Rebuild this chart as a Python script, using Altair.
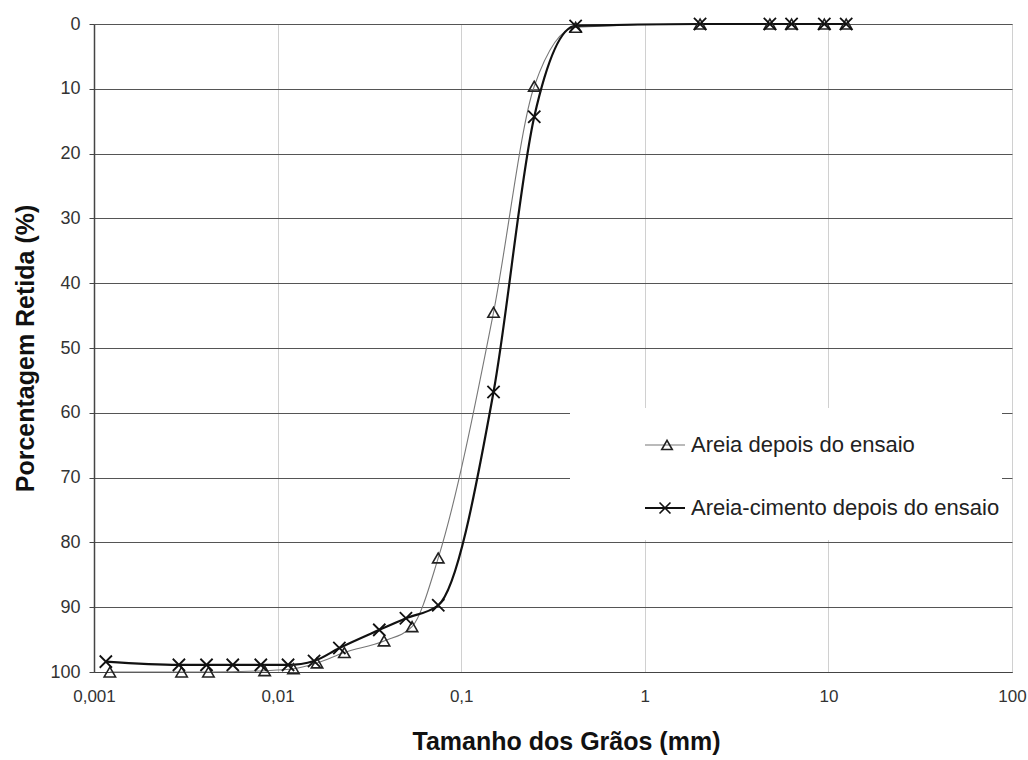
import altair as alt
import pandas as pd

# ---- data ----
areia_size = [0.00122, 0.0030, 0.0042, 0.0085, 0.0122, 0.0164, 0.0231, 0.038, 0.054, 0.075,
              0.15, 0.25, 0.42, 2.0, 4.8, 6.3, 9.5, 12.5]
areia_ret = [100, 100, 100, 99.8, 99.5, 98.6, 97.0, 95.2, 93.0, 82.4,
             44.5, 9.6, 0.5, 0, 0, 0, 0, 0]

cim_size = [0.00116, 0.0029, 0.0041, 0.0057, 0.0081, 0.0114, 0.0158, 0.0217, 0.0358, 0.050,
            0.075, 0.15, 0.25, 0.42, 2.0, 4.8, 6.3, 9.5, 12.5]
cim_ret = [98.4, 98.9, 98.9, 98.9, 98.9, 98.9, 98.3, 96.3, 93.5, 91.7,
           89.7, 56.8, 14.3, 0.3, 0, 0, 0, 0, 0]

x_ticks = [0.001, 0.01, 0.1, 1, 10, 100]
y_ticks = [0, 10, 20, 30, 40, 50, 60, 70, 80, 90, 100]
legend_labels = ["Areia depois do ensaio", "Areia-cimento depois do ensaio"]

df_a = pd.DataFrame({"size": areia_size, "ret": areia_ret})
df_c = pd.DataFrame({"size": cim_size, "ret": cim_ret})
one = pd.DataFrame({"k": [0]})

FONT = "Liberation Sans"
X_PATH = "M-1,-1L1,1M-1,1L1,-1"

xenc = alt.X(
    "size:Q",
    scale=alt.Scale(type="log", domain=[0.001, 100], nice=False),
    axis=alt.Axis(
        values=x_ticks,
        labelExpr="replace(toString(datum.value), '.', ',')",
        title="Tamanho dos Grãos (mm)",
        ticks=False,
        labelPadding=16,
        labelFontSize=17,
        labelColor="#333",
        labelFont=FONT,
        titleFont=FONT,
        titleFontSize=25,
        titleFontWeight="bold",
        titleColor="#111",
        titleX=472,
        titleY=69,
        titleBaseline="middle",
        grid=True,
        gridColor="#d0d0d0",
        gridWidth=1,
        domainColor="#444",
        domainWidth=1.2,
        labelFlush=False,
    ),
)
yenc = alt.Y(
    "ret:Q",
    scale=alt.Scale(domain=[0, 100], reverse=True, nice=False),
    axis=alt.Axis(
        values=y_ticks,
        title="Porcentagem Retida (%)",
        tickSize=5,
        tickColor="#444",
        labelPadding=9,
        labelFontSize=18,
        labelColor="#333",
        labelFont=FONT,
        titleFont=FONT,
        titleFontSize=25,
        titleFontWeight="bold",
        titleColor="#111",
        titleX=-69,
        titleY=324,
        titleBaseline="middle",
        grid=True,
        gridColor="#555",
        gridWidth=1,
        domainColor="#444",
        domainWidth=1.5,
        labelFlush=False,
    ),
)

line_a = alt.Chart(df_a).mark_line(
    interpolate="monotone", color="#777", strokeWidth=1.1, clip=False
).encode(x=xenc, y=yenc)
line_c = alt.Chart(df_c).mark_line(
    interpolate="monotone", color="#111", strokeWidth=2.2, clip=False
).encode(x=xenc, y=yenc)

pts_a = alt.Chart(df_a).mark_point(
    shape="triangle-up", filled=False, size=130, stroke="#222", strokeWidth=1.6, opacity=1
).encode(x=xenc, y=yenc)
pts_c = alt.Chart(df_c).mark_point(
    shape=X_PATH, filled=False, size=150, stroke="#111", strokeWidth=1.8, opacity=1
).encode(x=xenc, y=yenc)

# ---- legend (manual, inside plot) ----
leg_box = alt.Chart(one).mark_rect(fill="white", stroke=None).encode(
    x=alt.value(476), x2=alt.value(908), y=alt.value(384), y2=alt.value(516)
)
leg_line_a = alt.Chart(one).mark_rule(color="#777", strokeWidth=1.1).encode(
    x=alt.value(551), x2=alt.value(591), y=alt.value(421)
)
leg_line_c = alt.Chart(one).mark_rule(color="#111", strokeWidth=2).encode(
    x=alt.value(551), x2=alt.value(591), y=alt.value(484)
)
leg_pt_a = alt.Chart(one).mark_point(
    shape="triangle-up", filled=False, size=110, stroke="#222", strokeWidth=1.6, opacity=1
).encode(x=alt.value(573), y=alt.value(421))
leg_pt_c = alt.Chart(one).mark_point(
    shape=X_PATH, filled=False, size=120, stroke="#111", strokeWidth=1.6, opacity=1
).encode(x=alt.value(571), y=alt.value(484))
leg_txt_a = alt.Chart(one).mark_text(
    align="left", baseline="middle", font=FONT, fontSize=22, color="#222"
).encode(x=alt.value(597), y=alt.value(421), text=alt.value(legend_labels[0]))
leg_txt_c = alt.Chart(one).mark_text(
    align="left", baseline="middle", font=FONT, fontSize=22, color="#222"
).encode(x=alt.value(597), y=alt.value(484), text=alt.value(legend_labels[1]))

chart = alt.layer(
    line_a, line_c, pts_a, pts_c,
    leg_box, leg_line_a, leg_line_c, leg_pt_a, leg_pt_c, leg_txt_a, leg_txt_c,
).properties(
    width=918,
    height=648,
    autosize=alt.AutoSizeParams(type="none"),
    padding={"left": 94, "top": 24, "right": 16, "bottom": 88},
    background="white",
).configure_view(stroke="#888", strokeWidth=1)

chart.save("out.html", embed_options={"renderer": "svg", "actions": False})
